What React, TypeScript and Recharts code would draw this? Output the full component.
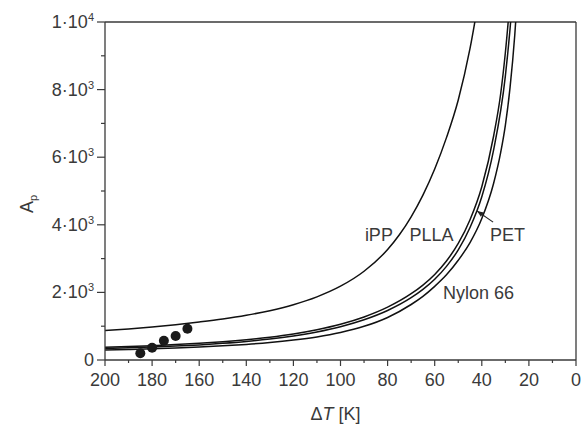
import React from "react";
import {
  ComposedChart,
  Line,
  Scatter,
  XAxis,
  YAxis,
  ReferenceLine,
  ReferenceDot,
} from "recharts";

// curves: undercooling ΔT [K] -> A_p
const ippDT = [200, 190, 180, 170, 160, 150, 140, 130, 120, 110, 100, 90, 80, 75, 70, 65, 60, 55, 50, 45, 40];
const ippA = [870, 920, 978, 1045, 1125, 1214, 1323, 1460, 1637, 1869, 2183, 2625, 3268, 3704, 4237, 4878, 5650, 6579, 7692, 9217, 11236];

const pllaDT = [200, 190, 180, 170, 160, 150, 140, 130, 120, 110, 100, 90, 80, 70, 65, 60, 55, 50, 45, 40, 35, 32, 30, 28];
const pllaA = [377, 398, 424, 455, 493, 541, 601, 676, 772, 897, 1058, 1274, 1563, 1961, 2217, 2532, 2930, 3448, 4150, 5128, 6620, 7870, 9090, 10640];

const petDT = [200, 190, 180, 170, 160, 150, 140, 130, 120, 110, 100, 90, 80, 70, 65, 60, 55, 50, 45, 40, 35, 30, 28, 27];
const petA = [340, 360, 383, 412, 447, 493, 549, 621, 713, 831, 985, 1190, 1464, 1842, 2088, 2387, 2770, 3257, 3920, 4830, 6210, 8400, 9800, 10640];

const nylonDT = [200, 190, 180, 170, 160, 150, 140, 130, 120, 110, 100, 90, 80, 70, 65, 60, 55, 50, 45, 40, 35, 32, 30, 28, 26, 25];
const nylonA = [295, 312, 331, 355, 383, 419, 462, 517, 589, 683, 814, 996, 1259, 1642, 1883, 2179, 2519, 2950, 3472, 4184, 5222, 6135, 6944, 8065, 9615, 10638];

// measured points
const expDT = [185, 180, 175, 170, 165];
const expA = [200, 364, 571, 710, 926];

const xTicks = [200, 190, 180, 170, 160, 150, 140, 130, 120, 110, 100, 90, 80, 70, 60, 50, 40, 30, 20, 10, 0];
const yTicks = [0, 1000, 2000, 3000, 4000, 5000, 6000, 7000, 8000, 9000, 10000];

const toRows = (xs: number[], ys: number[]) => xs.map((x, i) => ({ x, y: ys[i] }));

const FONT = "'Liberation Sans', Arial, sans-serif";
const INK = "#3a3a3a";

const XTick = (p: any) => {
  const { x, y, payload } = p;
  const v = payload.value;
  const major = v % 20 === 0;
  return (
    <g>
      <line x1={x} x2={x} y1={y} y2={y + (major ? 6 : 3)} stroke={INK} strokeWidth={1.2} />
      {major && (
        <text x={x} y={y + 26} textAnchor="middle" fontSize={18} fill={INK} fontFamily={FONT}>
          {v}
        </text>
      )}
    </g>
  );
};

const YTick = (p: any) => {
  const { x, y, payload } = p;
  const v = payload.value;
  const major = v % 2000 === 0;
  let label: React.ReactNode = null;
  if (major) {
    if (v === 0) label = "0";
    else if (v === 10000)
      label = (
        <>
          <tspan>1·10</tspan>
          <tspan fontSize={11} dy={-7}>4</tspan>
        </>
      );
    else
      label = (
        <>
          <tspan>{v / 1000}·10</tspan>
          <tspan fontSize={11} dy={-7}>3</tspan>
        </>
      );
  }
  return (
    <g>
      <line x1={x} x2={x - (major ? 8 : 4)} y1={y} y2={y} stroke={INK} strokeWidth={1.2} />
      {major && (
        <text x={x - 11} y={y + 6} textAnchor="end" fontSize={18} fill={INK} fontFamily={FONT}>
          {label}
        </text>
      )}
    </g>
  );
};

const Arrow = (p: any) => {
  const { x1, y1, x2, y2 } = p;
  const a = Math.atan2(y2 - y1, x2 - x1);
  const L = 7;
  const w = 0.4;
  const pts = [
    [x2, y2],
    [x2 - L * Math.cos(a - w), y2 - L * Math.sin(a - w)],
    [x2 - L * Math.cos(a + w), y2 - L * Math.sin(a + w)],
  ]
    .map((q) => q.join(","))
    .join(" ");
  return (
    <g>
      <line x1={x1} y1={y1} x2={x2} y2={y2} stroke="#222" strokeWidth={1.1} />
      <polygon points={pts} fill="#222" />
    </g>
  );
};

const curveLabel = (text: string) => ({
  value: text,
  position: "center" as const,
  fontSize: 18,
  fill: INK,
  fontFamily: FONT,
});

export default function App() {
  const curves = [
    { name: "iPP", rows: toRows(ippDT, ippA) },
    { name: "PLLA", rows: toRows(pllaDT, pllaA) },
    { name: "PET", rows: toRows(petDT, petA) },
    { name: "Nylon 66", rows: toRows(nylonDT, nylonA) },
  ];

  return (
    <div style={{ position: "absolute", left: 0, top: 0, background: "#fff" }}>
      <ComposedChart
        width={587}
        height={425}
        margin={{ top: 22, right: 11, left: 0, bottom: 0 }}
        style={{ fontFamily: FONT }}
      >
        <XAxis
          type="number"
          dataKey="x"
          domain={[0, 200]}
          reversed
          ticks={xTicks}
          interval={0}
          tickSize={0}
          tickMargin={0}
          tickLine={false}
          tick={<XTick />}
          height={65}
          axisLine={{ stroke: INK, strokeWidth: 1.3 }}
          label={{
            content: ({ viewBox }: any) => (
              <text
                x={viewBox.x + viewBox.width / 2 - 5}
                y={viewBox.y + 60}
                textAnchor="middle"
                fontSize={18}
                fill={INK}
                fontFamily={FONT}
              >
                Δ<tspan fontStyle="italic">T</tspan> [K]
              </text>
            ),
          }}
        />
        <YAxis
          type="number"
          dataKey="y"
          domain={[0, 10000]}
          allowDataOverflow
          ticks={yTicks}
          interval={0}
          tickSize={0}
          tickMargin={0}
          tickLine={false}
          tick={<YTick />}
          width={105}
          axisLine={{ stroke: INK, strokeWidth: 1.3 }}
          label={{
            content: ({ viewBox }: any) => (
              <text
                transform={`translate(${viewBox.x + 33}, ${viewBox.y + viewBox.height / 2 + 13}) rotate(-90)`}
                textAnchor="middle"
                fontSize={18}
                fill={INK}
                fontFamily={FONT}
              >
                A<tspan fontSize={11} dy={4}>p</tspan>
              </text>
            ),
          }}
        />
        <ReferenceLine y={10000} stroke={INK} strokeWidth={1.3} />
        <ReferenceLine x={0} stroke={INK} strokeWidth={1.3} />
        {curves.map((c) => (
          <Line
            key={c.name}
            data={c.rows}
            dataKey="y"
            type="monotone"
            stroke="#111"
            strokeWidth={1.5}
            dot={false}
            activeDot={false}
            isAnimationActive={false}
          />
        ))}
        <Scatter
          data={toRows(expDT, expA)}
          fill="#1a1a1a"
          shape={(p: any) => <circle cx={p.cx} cy={p.cy} r={5} fill="#1a1a1a" />}
          isAnimationActive={false}
        />
        <ReferenceLine
          segment={[
            { x: 35.2, y: 4080 },
            { x: 42, y: 4410 },
          ]}
          shape={<Arrow />}
        />
        <ReferenceDot x={83.7} y={3700} r={0} stroke="none" fill="none" label={curveLabel("iPP")} />
        <ReferenceDot x={61.4} y={3700} r={0} stroke="none" fill="none" label={curveLabel("PLLA")} />
        <ReferenceDot x={29.1} y={3700} r={0} stroke="none" fill="none" label={curveLabel("PET")} />
        <ReferenceDot x={41.4} y={1980} r={0} stroke="none" fill="none" label={curveLabel("Nylon 66")} />
      </ComposedChart>
    </div>
  );
}
